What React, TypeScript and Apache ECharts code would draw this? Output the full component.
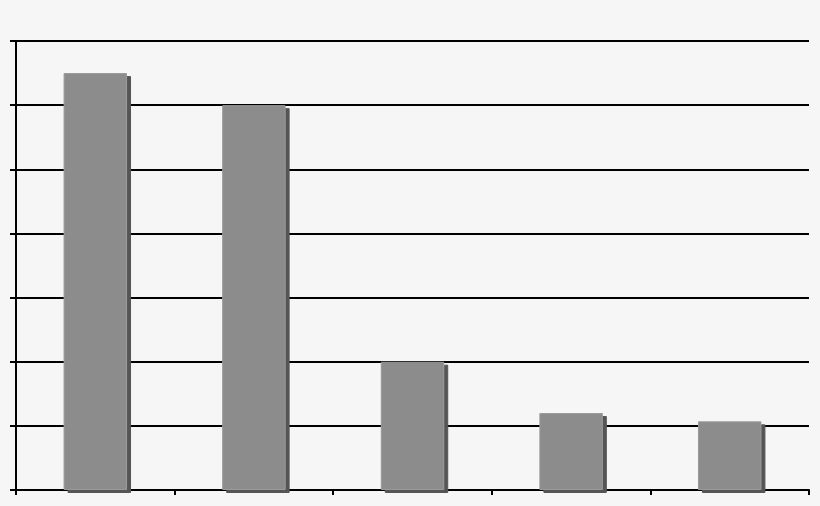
import React, { useEffect, useRef } from 'react';
import * as echarts from 'echarts';

const categories = ['A', 'B', 'C', 'D', 'E'];
const values = [6.5, 6, 2, 1.2, 1.07];
const yMax = 7;

const App: React.FC = () => {
  const chartRef = useRef<HTMLDivElement>(null);

  useEffect(() => {
    document.body.style.margin = '0';
    if (!chartRef.current) return;
    const chart = echarts.init(chartRef.current, undefined, { renderer: 'svg' });

    const option = {
      animation: false,
      backgroundColor: '#f6f6f6',
      grid: { left: 16, right: 11, top: 41, bottom: 16, containLabel: false },
      xAxis: {
        type: 'category',
        data: categories,
        boundaryGap: true,
        axisLine: { show: true, lineStyle: { color: '#000', width: 2 } },
        axisTick: { show: true, alignWithLabel: false, length: 5, lineStyle: { color: '#000', width: 2 } },
        axisLabel: { show: false },
        splitLine: { show: false },
      },
      yAxis: {
        type: 'value',
        min: 0,
        max: yMax,
        interval: 1,
        axisLine: { show: true, lineStyle: { color: '#000', width: 2 } },
        axisTick: { show: true, length: 6, lineStyle: { color: '#000', width: 2 } },
        axisLabel: { show: false },
        splitLine: { show: true, lineStyle: { color: '#000', width: 2 } },
      },
      series: [
        {
          type: 'bar',
          data: values,
          barWidth: '40%',
          itemStyle: {
            color: '#8c8c8c',
            borderColor: '#9a9a9a',
            borderWidth: 1,
            shadowColor: '#555555',
            shadowBlur: 0,
            shadowOffsetX: 4,
            shadowOffsetY: 3,
          },
        },
      ],
    };

    chart.setOption(option);
    return () => {
      chart.dispose();
    };
  }, []);

  return <div ref={chartRef} style={{ width: '820px', height: '506px' }} />;
};

export default App;
